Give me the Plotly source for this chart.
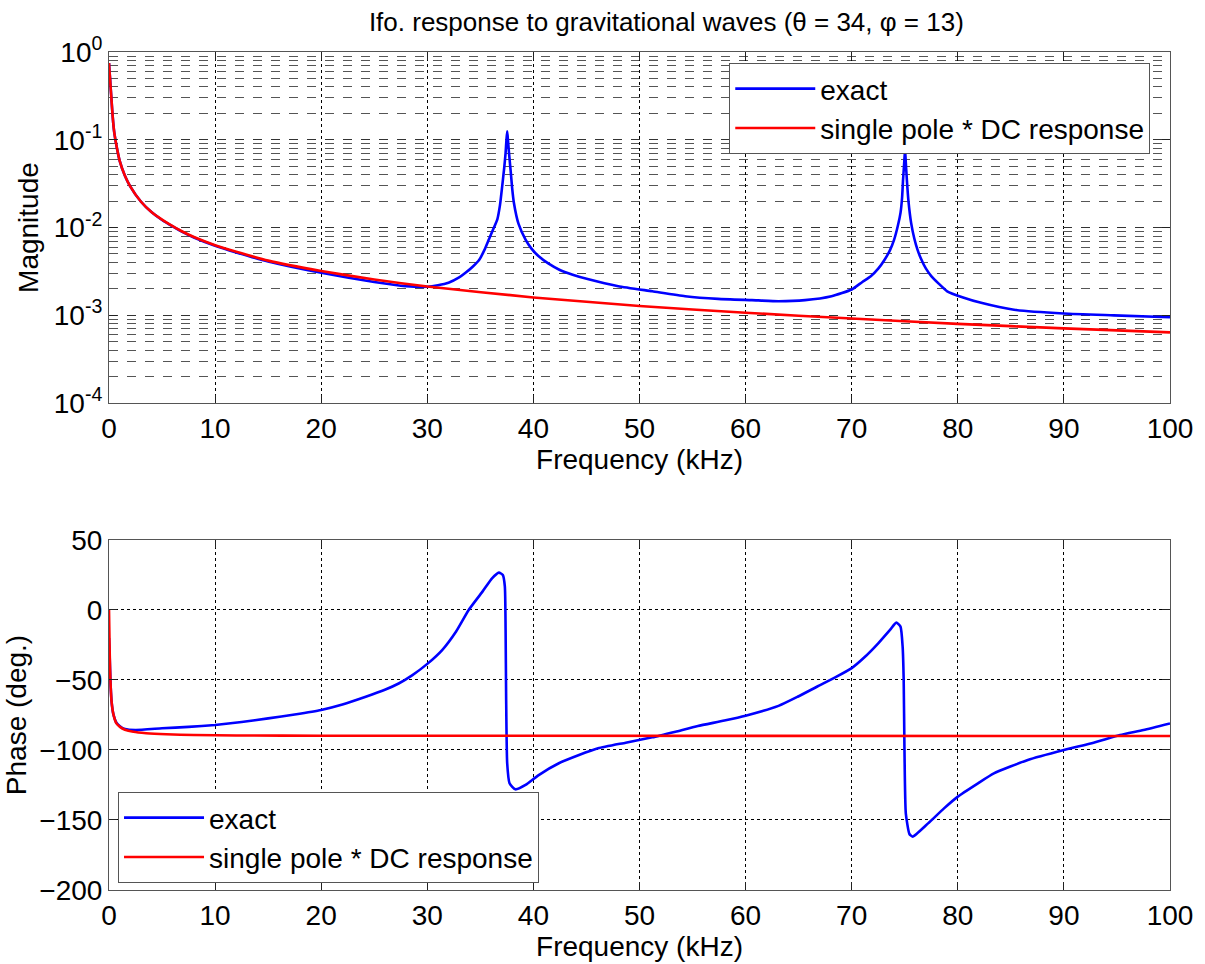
import plotly.graph_objects as go
from plotly.subplots import make_subplots

# ---------------- data ----------------
# Magnitude, single pole * DC response
f_mag_red = [0, 0.05, 0.1, 0.15, 0.2, 0.3, 0.4, 0.5, 0.75, 1, 1.5, 2, 3, 4, 5, 6, 7, 8, 10,
             12, 15, 20, 25, 30, 40, 50, 60, 70, 80, 90, 100]
mag_red = [0.75, 0.6, 0.5, 0.4, 0.33, 0.22, 0.155, 0.12, 0.08, 0.058, 0.039, 0.0295, 0.0198,
           0.015, 0.0123, 0.0104, 0.0089, 0.0078, 0.0063, 0.0053, 0.0042, 0.0032, 0.00256,
           0.00213, 0.0016, 0.00128, 0.00107, 0.00092, 0.0008, 0.00071, 0.00064]

# Magnitude, exact
f_mag_blue = [0, 0.05, 0.1, 0.15, 0.2, 0.3, 0.4, 0.5, 0.75, 1, 1.5, 2, 3, 4, 5, 6, 7, 8, 10,
              12, 15, 20, 25, 28, 30, 31, 32, 33, 33.6, 34.3, 34.9, 35.4, 35.8, 36.2, 36.6,
              36.85, 37.06, 37.25, 37.38, 37.46, 37.53, 37.6, 37.7, 37.85, 38.0, 38.16, 38.6,
              39.26, 39.8, 40.5, 41.4, 42.4, 43.7, 45.2, 48, 51.2, 54.3, 57.4, 60.6, 63.1,
              65.6, 68.1, 70, 71, 71.8, 72.5, 73.1, 73.6, 74, 74.35, 74.6, 74.75, 74.84,
              74.95, 75.03, 75.1, 75.2, 75.35, 75.6, 75.9, 76.2, 76.5, 77, 77.5, 78.2, 79,
              80.5, 82.2, 85.3, 90, 94.7, 100]
mag_blue = [0.75, 0.6, 0.5, 0.4, 0.33, 0.22, 0.155, 0.12, 0.08, 0.058, 0.039, 0.0295, 0.0198,
            0.015, 0.0122, 0.0103, 0.0088, 0.0077, 0.0062, 0.0052, 0.0041, 0.00305, 0.0024,
            0.00215, 0.00212, 0.0022, 0.00235, 0.0027, 0.00305, 0.0036, 0.0043, 0.0056,
            0.0073, 0.0095, 0.0124, 0.018, 0.0297, 0.048, 0.071, 0.1, 0.125, 0.1, 0.071,
            0.045, 0.028, 0.0192, 0.011, 0.0073, 0.0058, 0.0047, 0.0039, 0.00333, 0.0029,
            0.00257, 0.00215, 0.00188, 0.00165, 0.00154, 0.00149, 0.00145, 0.00149, 0.00165,
            0.00197, 0.0024, 0.00279, 0.0034, 0.0043, 0.0055, 0.0073, 0.0105, 0.0147, 0.022,
            0.035, 0.055, 0.078, 0.055, 0.035, 0.02, 0.0113, 0.0075, 0.0056, 0.0045, 0.0034,
            0.0028, 0.0023, 0.00188, 0.0016, 0.00139, 0.00116, 0.00105, 0.001, 0.00095]

# Phase, single pole * DC response
f_ph_red = [0, 0.05, 0.1, 0.16, 0.25, 0.4, 0.7, 1.03, 1.5, 2.3, 3.5, 5.4, 8, 12, 20, 100]
ph_red = [0, -24, -42, -55, -66, -74, -81, -83.5, -85.5, -87, -88, -88.8, -89.3, -89.6,
          -89.8, -90]

# Phase, exact
f_ph_blue = [0, 0.05, 0.1, 0.16, 0.25, 0.4, 0.7, 1.03, 1.5, 2.5, 5, 7.5, 10, 12.5, 15, 17.5,
             20, 22, 24.2, 26, 27.3, 28.6, 30, 31.4, 32.7, 33.9, 35.2, 36.1, 36.75, 37.12,
             37.31, 37.38, 37.43, 37.53, 37.75, 38.3, 39.26, 40.5, 42.4, 44.3, 46.1, 48.7,
             51.2, 53.4, 55.5, 58, 60, 63.1, 64.9, 66.8, 68.4, 70, 71.2, 72.5, 73.6, 74.2,
             74.6, 74.8, 74.9, 74.97, 75.1, 75.44, 75.75, 77.2, 78.7, 80, 81.9, 83.4, 86.6,
             90, 92.8, 95.3, 97.5, 100]
ph_blue = [-20, -30, -42, -55, -66, -74, -80.5, -83, -85, -85.7, -84.5, -83.5, -82.1, -80,
           -77.4, -74.6, -71.4, -67.5, -62, -57, -52.5, -46.5, -38.5, -28.6, -15.5, 0, 13.1,
           22.6, 26.7, 25, 16.7, -14.3, -61.9, -109.5, -123.8, -128.1, -125, -117.9, -109.5,
           -103.6, -98.8, -94.8, -90.95, -86.9, -82.9, -79, -75.5, -68.5, -62, -54.5, -48.3,
           -41.5, -33.8, -23.8, -14.3, -9.0, -11.9, -26.2, -50, -97.6, -145.2, -160, -161.9,
           -152.4, -141.7, -133.3, -123.8, -116.7, -107.1, -100, -94.8, -89.3, -85.7, -81]

x_ticks = [0, 10, 20, 30, 40, 50, 60, 70, 80, 90, 100]
mag_ticks = [1e-4, 1e-3, 1e-2, 1e-1, 1]
mag_ticktext = ["10<sup>-4</sup>", "10<sup>-3</sup>", "10<sup>-2</sup>",
                "10<sup>-1</sup>", "10<sup>0</sup>"]
ph_ticks = [-200, -150, -100, -50, 0, 50]

BLUE = "#0000ff"
RED = "#ff0000"
FONT = "Liberation Sans, Arial, sans-serif"
FS = 28
SM = 0.5

fig = make_subplots(rows=2, cols=1)

fig.add_trace(go.Scatter(x=f_mag_blue, y=mag_blue, mode="lines", name="exact",
                         line=dict(color=BLUE, width=2.6, shape="spline", smoothing=SM),
                         legend="legend"), row=1, col=1)
fig.add_trace(go.Scatter(x=f_mag_red, y=mag_red, mode="lines",
                         name="single pole * DC response",
                         line=dict(color=RED, width=2.6, shape="spline", smoothing=SM),
                         legend="legend"), row=1, col=1)
fig.add_trace(go.Scatter(x=f_ph_blue, y=ph_blue, mode="lines", name="exact",
                         line=dict(color=BLUE, width=2.6, shape="spline", smoothing=SM),
                         legend="legend2"), row=2, col=1)
fig.add_trace(go.Scatter(x=f_ph_red, y=ph_red, mode="lines",
                         name="single pole * DC response",
                         line=dict(color=RED, width=2.6, shape="spline", smoothing=SM),
                         legend="legend2"), row=2, col=1)

axis_common = dict(showline=True, mirror="ticks", linecolor="#555", linewidth=1,
                   ticks="inside", ticklen=8, tickcolor="#222", zeroline=False,
                   tickfont=dict(size=FS, color="black", family=FONT))

fig.update_xaxes(range=[0, 100], tickvals=x_ticks, showgrid=True, gridcolor="black",
                 griddash="dot", gridwidth=1, **axis_common)
fig.update_xaxes(title=dict(text="Frequency (kHz)", font=dict(size=FS, family=FONT),
                            standoff=4), row=1, col=1)
fig.update_xaxes(title=dict(text="Frequency (kHz)", font=dict(size=FS, family=FONT),
                            standoff=2), row=2, col=1)

fig.update_yaxes(type="log", range=[-4, 0], tickvals=mag_ticks, ticktext=mag_ticktext,
                 showgrid=True, gridcolor="#333", griddash="dash", gridwidth=1,
                 minor=dict(dtick="D1", showgrid=True, gridcolor="#555", griddash="dash",
                            gridwidth=1, ticks=""),
                 title=dict(text="Magnitude", font=dict(size=FS, family=FONT), standoff=6),
                 row=1, col=1, **axis_common)
fig.update_yaxes(range=[-200, 50], tickvals=ph_ticks, showgrid=True, gridcolor="black",
                 griddash="dot", gridwidth=1,
                 title=dict(text="Phase (deg.)", font=dict(size=FS, family=FONT), standoff=4),
                 row=2, col=1, **axis_common)

fig.update_layout(
    width=1205, height=964,
    margin=dict(l=109, r=32, t=52, b=74),
    plot_bgcolor="white", paper_bgcolor="white",
    font=dict(family=FONT, size=FS, color="black"),
    title=dict(text="Ifo. response to gravitational waves (\u03b8 = 34, \u03c6 = 13)",
               x=0.553, xanchor="center", y=0.977, yanchor="middle",
               font=dict(size=26, family=FONT, color="black")),
    xaxis=dict(domain=[0, 1]), xaxis2=dict(domain=[0, 1]),
    yaxis=dict(domain=[0.581, 1.0]), yaxis2=dict(domain=[0.0, 0.4177]),
    legend=dict(x=0.5846, y=0.987, xanchor="left", yanchor="top",
                bgcolor="white", bordercolor="#555", borderwidth=1,
                font=dict(size=FS, family=FONT), tracegroupgap=0, itemwidth=80),
    legend2=dict(x=0.0085, y=0.0084, xanchor="left", yanchor="bottom",
                 bgcolor="white", bordercolor="#555", borderwidth=1,
                 font=dict(size=FS, family=FONT), tracegroupgap=0, itemwidth=80),
)

fig.write_html("out.html")
